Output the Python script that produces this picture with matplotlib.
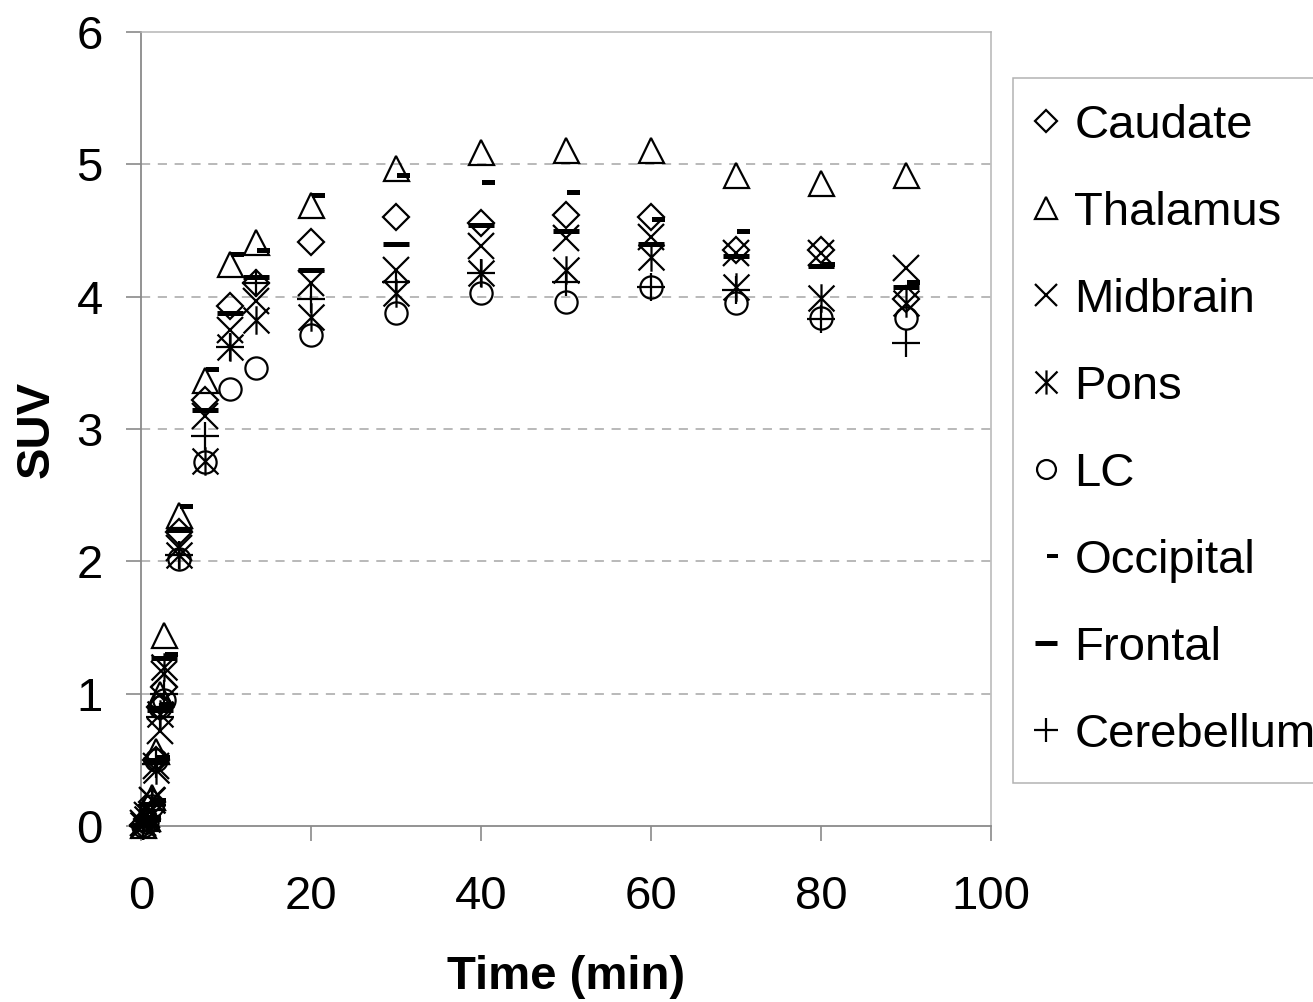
import matplotlib
matplotlib.use("Agg")
import matplotlib.pyplot as plt
import numpy as np
from matplotlib.path import Path

plt.rcParams['font.family'] = ['Liberation Sans', 'DejaVu Sans']

# frame mid times (min)
time = [0.25, 0.75, 1.25, 1.75, 2.25, 2.75, 4.5, 7.5, 10.5, 13.5, 20, 30, 40, 50, 60, 70, 80, 90]

caudate = [0.01, 0.05, 0.18, 0.50, 0.90, 1.05, 2.22, 3.22, 3.93, 4.10, 4.41, 4.60, 4.56, 4.62, 4.60, 4.35, 4.35, 3.98]
thalamus = [0.01, 0.06, 0.22, 0.57, 1.00, 1.44, 2.35, 3.37, 4.25, 4.41, 4.69, 4.97, 5.09, 5.11, 5.11, 4.92, 4.86, 4.92]
midbrain = [0.02, 0.08, 0.20, 0.45, 0.72, 1.15, 2.10, 3.10, 3.75, 3.97, 4.10, 4.20, 4.38, 4.44, 4.45, 4.33, 4.33, 4.22]
pons = [0.01, 0.05, 0.20, 0.42, 0.85, 1.20, 2.05, 2.76, 3.62, 3.82, 3.85, 4.03, 4.18, 4.20, 4.30, 4.07, 3.99, 3.95]
lc = [0.00, 0.03, 0.15, 0.50, 0.90, 0.95, 2.02, 2.75, 3.30, 3.46, 3.71, 3.88, 4.03, 3.96, 4.07, 3.95, 3.84, 3.84]
occipital = [0.02, 0.07, 0.20, 0.52, 0.92, 1.30, 2.42, 3.45, 4.32, 4.35, 4.77, 4.92, 4.87, 4.79, 4.59, 4.50, 4.25, 4.11]
frontal = [0.01, 0.05, 0.17, 0.50, 0.88, 1.27, 2.24, 3.14, 3.88, 4.15, 4.20, 4.40, 4.54, 4.50, 4.40, 4.31, 4.23, 4.07]
cerebellum = [0.00, 0.04, 0.16, 0.47, 0.82, 1.00, 2.05, 2.95, 3.62, 4.10, 3.98, 4.11, 4.18, 4.11, 4.07, 4.05, 3.83, 3.65]

# custom markers: asterisk (x with vertical bar) and short dash sitting right of centre
asterisk = Path([(-1, -1), (1, 1), (-1, 1), (1, -1), (0, -1.1), (0, 1.1)],
                [Path.MOVETO, Path.LINETO, Path.MOVETO, Path.LINETO, Path.MOVETO, Path.LINETO])
short_dash = Path([(0.1, -0.18), (1, -0.18), (1, 0.18), (0.1, 0.18), (0.1, -0.18)],
                  [Path.MOVETO, Path.LINETO, Path.LINETO, Path.LINETO, Path.CLOSEPOLY])

series = [
    ("Caudate", caudate, dict(marker='D', ms=13.2, mfc='none', mew=1.6)),
    ("Thalamus", thalamus, dict(marker='^', ms=18, mfc='none', mew=1.6)),
    ("Midbrain", midbrain, dict(marker='x', ms=19, mew=1.6)),
    ("Pons", pons, dict(marker=asterisk, ms=20.5, mew=1.6)),
    ("LC", lc, dict(marker='o', ms=16, mfc='none', mew=1.6)),
    ("Occipital", occipital, dict(marker=short_dash, ms=20, mfc='black', mew=0)),
    ("Frontal", frontal, dict(marker='_', ms=19, mew=3.6)),
    ("Cerebellum", cerebellum, dict(marker='+', ms=20, mew=1.6)),
]

fig = plt.figure(figsize=(13.13, 10.02), dpi=100)
ax = fig.add_axes([141 / 1313, 1 - 826 / 1002, 850 / 1313, 794 / 1002])

for name, vals, style in series:
    ax.plot(time, vals, linestyle='none', color='black', mec='black',
            label=name, clip_on=False, zorder=3, **style)

ax.set_xlim(0, 100)
ax.set_ylim(0, 6)
ax.set_xticks(np.arange(0, 101, 20))
ax.set_yticks(np.arange(0, 7, 1))
ax.tick_params(axis='both', direction='out', length=10.5, width=1.2,
               color='#8a8a8a', labelsize=34)
ax.tick_params(axis='x', pad=25)
ax.tick_params(axis='y', pad=17)

for y in range(1, 6):
    ax.axhline(y, color='#a6a6a6', linestyle=(0, (6, 5)), linewidth=1.1, zorder=1)

for side in ['left', 'bottom']:
    ax.spines[side].set_color('#8a8a8a')
    ax.spines[side].set_linewidth(1.3)
for side in ['top', 'right']:
    ax.spines[side].set_color('#b5b5b5')
    ax.spines[side].set_linewidth(1.1)

ax.set_xlabel("Time (min)", fontsize=34, fontweight='bold', labelpad=26)
ax.set_ylabel("SUV", fontsize=34, fontweight='bold', labelpad=13)

leg = fig.legend(loc='upper left', bbox_to_anchor=(1013 / 1313, 1 - 78 / 1002),
                 fontsize=34, frameon=True, fancybox=False, numpoints=1,
                 markerscale=0.85, handlelength=0.3, handletextpad=0.45,
                 labelspacing=0.91, borderpad=0.55, borderaxespad=0)
leg.get_frame().set_edgecolor('#a0a0a0')
leg.get_frame().set_linewidth(1.1)

fig.savefig("out.png", dpi=100)
